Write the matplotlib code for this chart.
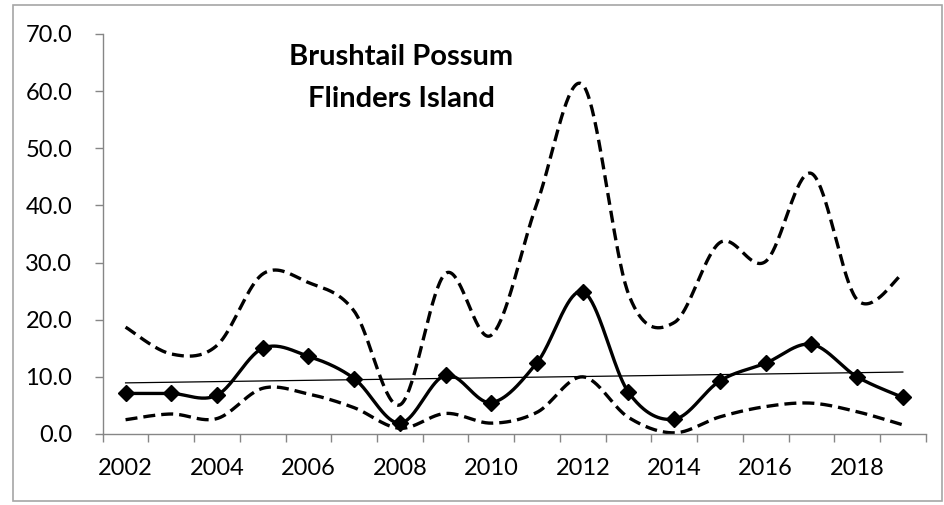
import numpy as np
import matplotlib.pyplot as plt
from matplotlib.patches import Rectangle

plt.rcParams['font.family'] = ['Lato', 'DejaVu Sans']

# data
years = list(range(2002, 2020))
estimate = [7.1, 7.1, 6.8, 15.0, 13.6, 9.7, 1.9, 10.3, 5.5, 12.5, 24.9, 7.3, 2.6, 9.3, 12.4, 15.7, 10.0, 6.4]
upper = [18.7, 14.0, 15.5, 28.0, 26.5, 21.5, 5.1, 28.1, 17.3, 40.4, 61.1, 24.5, 19.5, 33.5, 30.2, 45.6, 23.5, 28.1]
lower = [2.5, 3.5, 2.7, 8.0, 7.0, 4.6, 1.0, 3.6, 1.9, 3.8, 10.0, 2.9, 0.2, 3.0, 4.8, 5.4, 3.9, 1.6]
year_labels = [str(y) for y in years[::2]]


def smooth(x, y, n=40):
    # excel style smoothed line (bezier through the points)
    x = np.asarray(x, float)
    y = np.asarray(y, float)
    px = np.concatenate([[x[0]], x, [x[-1]]])
    py = np.concatenate([[y[0]], y, [y[-1]]])
    t = np.linspace(0, 1, n)[:, None]
    pts = []
    for i in range(len(x) - 1):
        p0 = np.array([px[i], py[i]])
        p1 = np.array([px[i + 1], py[i + 1]])
        p2 = np.array([px[i + 2], py[i + 2]])
        p3 = np.array([px[i + 3], py[i + 3]])
        c1 = p1 + (p2 - p0) / 6
        c2 = p2 - (p3 - p1) / 6
        seg = ((1 - t) ** 3) * p1 + 3 * ((1 - t) ** 2) * t * c1 + 3 * (1 - t) * t ** 2 * c2 + t ** 3 * p2
        pts.append(seg if i == 0 else seg[1:])
    pts = np.vstack(pts)
    return pts[:, 0], pts[:, 1]


xi = np.arange(len(years))

fig = plt.figure(figsize=(9.44, 5.05), dpi=100)
ax = fig.add_axes([0.1088, 0.1406, 0.9806 - 0.1088, 0.9327 - 0.1406])

# chart border
fig.patches.append(Rectangle((13 / 944, 4 / 505), 929 / 944, 496 / 505, transform=fig.transFigure,
                             fill=False, edgecolor='#a6a6a6', linewidth=1.2))

sx, sy = smooth(xi, upper)
ax.plot(sx, sy, color='black', lw=2.4, ls=(0, (3.6, 1.8)), dash_capstyle='butt')
sx, sy = smooth(xi, lower)
ax.plot(sx, sy, color='black', lw=2.4, ls=(0, (3.6, 1.8)), dash_capstyle='butt')
sx, sy = smooth(xi, estimate)
ax.plot(sx, sy, color='black', lw=2.4)
ax.plot(xi, estimate, ls='none', marker='D', color='black', markersize=8.5)

# linear trend
k, b = np.polyfit(xi, estimate, 1)
ax.plot(xi, k * xi + b, color='black', lw=0.9)

ax.set_xlim(-0.5, len(years) - 0.5)
ax.set_ylim(0, 70)
ax.set_yticks(np.arange(0, 71, 10))
ax.set_yticklabels(['%.1f' % v for v in np.arange(0, 71, 10)])

ax.set_xticks(np.arange(-0.5, len(years), 1))
ax.set_xticklabels([])
ax.set_xticks(xi[::2], minor=True)
ax.set_xticklabels(year_labels, minor=True)
ax.tick_params(axis='x', which='major', length=6, color='#868686', width=1)
ax.tick_params(axis='x', which='minor', length=0, pad=17, labelsize=17)
ax.tick_params(axis='y', length=6, color='#868686', width=1, pad=16, labelsize=17)

for s in ['top', 'right']:
    ax.spines[s].set_visible(False)
for s in ['left', 'bottom']:
    ax.spines[s].set_color('#868686')
    ax.spines[s].set_linewidth(1)

ax.text(0.3625, 0.975, 'Brushtail Possum\nFlinders Island', transform=ax.transAxes,
        ha='center', va='top', fontsize=21, fontweight='bold', linespacing=1.78)

fig.savefig('out.png', dpi=100)
